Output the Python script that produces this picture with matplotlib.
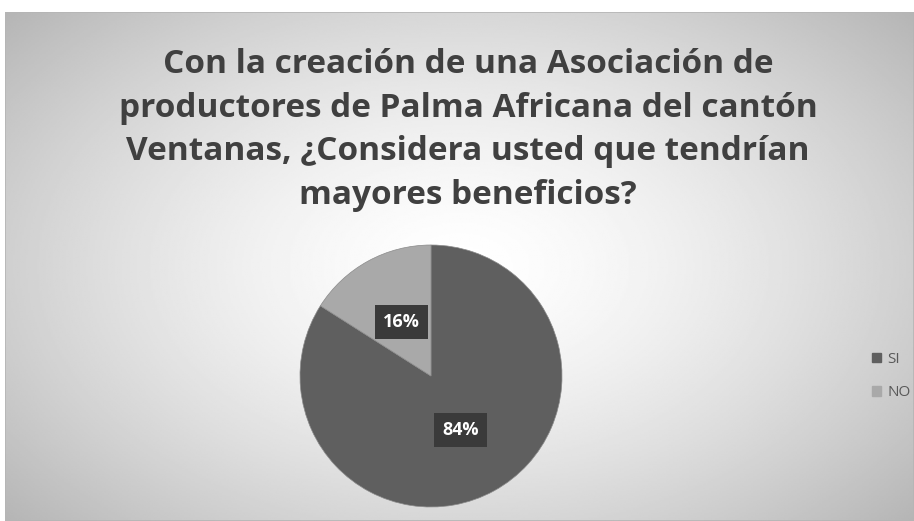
import numpy as np
import matplotlib.pyplot as plt
import matplotlib.patches as mpatches

# data
categories = ["SI", "NO"]
values = [84, 16]
title = ("Con la creación de una Asociación de\n"
         "productores de Palma Africana del cantón\n"
         "Ventanas, ¿Considera usted que tendrían\n"
         "mayores beneficios?")

colors = ["#5f5f5f", "#a9a9a9"]
W, H = 914, 521

fig = plt.figure(figsize=(W / 100, H / 100), dpi=100)
fig.patch.set_facecolor("white")

# chart area with radial gray gradient
bg = fig.add_axes([5 / W, 0, (W - 5) / W, (H - 12) / H])
yy, xx = np.mgrid[-1:1:300j, -1:1:500j]
rr = np.sqrt((xx * 0.9) ** 2 + (yy * 0.8) ** 2)
bg.imshow(1 - 0.22 * np.clip(rr, 0, 1.2) ** 1.5, cmap="gray", vmin=0, vmax=1,
          aspect="auto", extent=(0, 1, 0, 1))
bg.set_xlim(0, 1)
bg.set_ylim(0, 1)
bg.axis("off")
bg.add_patch(mpatches.Rectangle((0, 0), 1, 1, fill=False, edgecolor="#b5b5b5",
                                lw=1.2, transform=bg.transAxes))

fig.text(468 / W, 1 - 130 / H, title, ha="center", va="center",
         fontsize=24, fontweight="bold", color="#404040",
         family="Open Sans", linespacing=1.42)

# pie
cx, cy, r = 431, 376, 131
ax = fig.add_axes([(cx - r) / W, (H - cy - r) / H, 2 * r / W, 2 * r / H])
wedges, texts, autotexts = ax.pie(
    values, colors=colors, startangle=90, counterclock=False,
    autopct="%1.0f%%", pctdistance=0.47,
    wedgeprops=dict(edgecolor="#8a8a8a", linewidth=0.5),
    textprops=dict(color="white", fontsize=13, fontweight="bold",
                   family="Open Sans"))
for t in autotexts:
    t.set_bbox(dict(boxstyle="square,pad=0.45", facecolor="#3a3a3a",
                    edgecolor="none"))
ax.set_xlim(-1, 1)
ax.set_ylim(-1, 1)
ax.set_aspect("equal")

# legend
handles = [mpatches.Patch(color=c, label=l) for c, l in zip(colors, categories)]
fig.legend(handles=handles, loc="center left",
           bbox_to_anchor=(858 / W, 1 - 376 / H), frameon=False,
           handlelength=0.6, handleheight=0.6, handletextpad=0.4,
           labelspacing=1.2, prop=dict(family="Open Sans", size=11),
           labelcolor="#595959")

fig.savefig("out.png", dpi=100)
